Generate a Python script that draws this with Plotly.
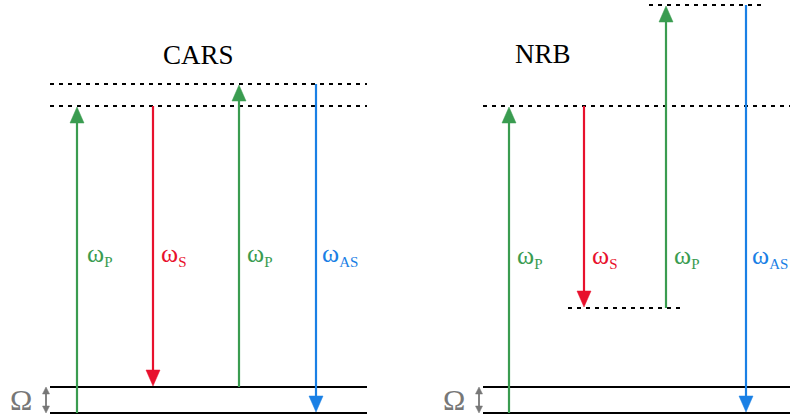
import plotly.graph_objects as go

W, H = 790, 419
GREEN = '#3a9c50'
RED = '#e8112d'
BLUE = '#1a80e5'
GRAY = '#777777'
COLORS = {'P': GREEN, 'S': RED, 'AS': BLUE}

# Panel titles
panel_titles = ["CARS", "NRB"]
title_x = [198, 543]
title_y = [55, 54]

# Energy levels (pixel-space coordinates of the diagram)
level_x0 = [50, 50, 50, 50, 483, 483, 483, 649, 568]
level_x1 = [367, 367, 367, 367, 790, 790, 790, 764, 683]
level_y = [413, 387, 106, 84, 413, 387, 106, 5, 308]
level_dashed = [False, False, True, True, False, False, True, True, True]

# Transitions
arrow_x = [77, 153, 239, 316, 509, 584, 666, 746]
arrow_from = [413, 106, 387, 84, 413, 106, 308, 5]
arrow_to = [107, 386, 85, 412, 107, 307, 6, 412]
arrow_kind = ['P', 'S', 'P', 'AS', 'P', 'S', 'P', 'AS']
label_dx = [8, 6, 6, 4, 6, 6, 6, 4]
label_y = [254, 254, 254, 254, 256, 256, 256, 256]

# Omega (vibrational spacing) markers
omega_x = [21, 454]
omega_arrow_x = [46, 479]
omega_y0, omega_y1 = 387, 413

HEAD_LEN = 16
HEAD_HALF = 7

fig = go.Figure()

# levels
for x0, x1, y, d in zip(level_x0, level_x1, level_y, level_dashed):
    fig.add_trace(go.Scatter(
        x=[x0, x1], y=[y, y], mode='lines',
        line=dict(color='black', width=2 if d else 1.8, dash='4px,5px' if d else 'solid'),
        hoverinfo='skip', showlegend=False))

def head(x, tip, direction, color, hl=HEAD_LEN, hw=HEAD_HALF):
    base = tip + direction * hl
    fig.add_trace(go.Scatter(
        x=[x - hw, x, x + hw, x - hw], y=[base, tip, base, base],
        mode='lines', fill='toself', fillcolor=color,
        line=dict(color=color, width=0.5),
        hoverinfo='skip', showlegend=False))

for x, y0, y1, k, dx, ly in zip(arrow_x, arrow_from, arrow_to, arrow_kind, label_dx, label_y):
    c = COLORS[k]
    direction = 1 if y1 < y0 else -1  # up arrow: base below tip
    fig.add_trace(go.Scatter(
        x=[x, x], y=[y0, y1 + direction * HEAD_LEN * 0.8], mode='lines',
        line=dict(color=c, width=2.2),
        hoverinfo='skip', showlegend=False))
    head(x, y1, direction, c)
    fig.add_annotation(
        x=x + dx, y=ly, xref='x', yref='y', xanchor='left', yanchor='middle',
        text=f"ω<sub><span style='font-size:15px'>{k}</span></sub>", showarrow=False,
        font=dict(family='Liberation Serif', size=26, color=c))

for t, tx, ty in zip(panel_titles, title_x, title_y):
    fig.add_annotation(
        x=tx, y=ty, xref='x', yref='y', xanchor='center', yanchor='middle',
        text=t, showarrow=False,
        font=dict(family='Liberation Serif', size=27, color='black'))

for ox, ax in zip(omega_x, omega_arrow_x):
    fig.add_annotation(
        x=ox, y=399, xref='x', yref='y', xanchor='center', yanchor='middle',
        text='Ω', showarrow=False,
        font=dict(family='Liberation Serif', size=30, color=GRAY))
    fig.add_trace(go.Scatter(
        x=[ax, ax], y=[omega_y0 + 5, omega_y1 - 5], mode='lines',
        line=dict(color=GRAY, width=1.8), hoverinfo='skip', showlegend=False))
    head(ax, omega_y0, 1, GRAY, hl=7, hw=3.5)
    head(ax, omega_y1, -1, GRAY, hl=7, hw=3.5)

fig.update_layout(
    width=W, height=H, margin=dict(l=0, r=0, t=0, b=0),
    paper_bgcolor='white', plot_bgcolor='white',
    xaxis=dict(range=[0, W], visible=False, fixedrange=True),
    yaxis=dict(range=[H, 0], visible=False, fixedrange=True),
)

fig.write_html("out.html", config={'displayModeBar': False},
               post_script="document.body.style.margin='0';document.body.style.overflow='hidden';")
